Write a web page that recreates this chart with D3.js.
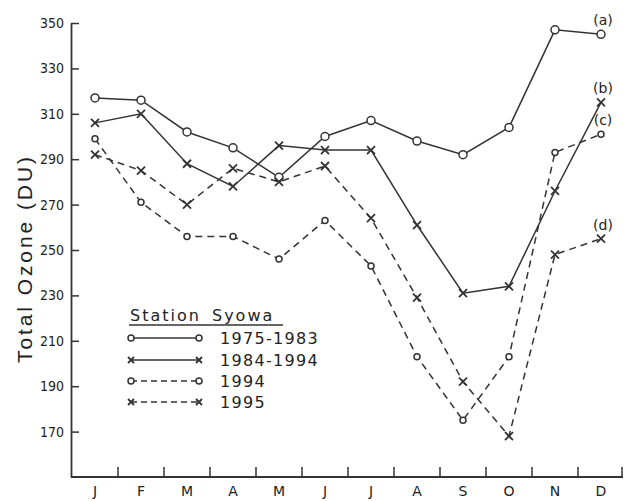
<!DOCTYPE html>
<html>
<head>
<meta charset="utf-8">
<script src="https://cdn.jsdelivr.net/npm/d3@7"></script>
<style>
  body { margin: 0; background: #fff; }
  svg { display: block; }
</style>
</head>
<body>
<script>
var width = 624,
    height = 501,
    ink = "#333";

// month labels along the bottom
var months = ["J", "F", "M", "A", "M", "J", "J", "A", "S", "O", "N", "D"];

// monthly total ozone (DU)
var ozone7583 = [317, 316, 302, 295, 282, 300, 307, 298, 292, 304, 347, 345];
var ozone8494 = [306, 310, 288, 278, 296, 294, 294, 261, 231, 234, 276, 315];
var ozone1994 = [299, 271, 256, 256, 246, 263, 243, 203, 175, 203, 293, 301];
var ozone1995 = [292, 285, 270, 286, 280, 287, 264, 229, 192, 168, 248, 255];

var yTicks = [170, 190, 210, 230, 250, 270, 290, 310, 330, 350];

var series = [
    {name: "1975-1983", tag: "(a)", values: ozone7583, dash: null,  mark: "o", r: 4},
    {name: "1984-1994", tag: "(b)", values: ozone8494, dash: null,  mark: "x", r: 4},
    {name: "1994",      tag: "(c)", values: ozone1994, dash: "7,5", mark: "o", r: 3},
    {name: "1995",      tag: "(d)", values: ozone1995, dash: "7,5", mark: "x", r: 4}
];

var x = d3.scaleBand()
    .domain(d3.range(12))
    .range([72, 624]);

var y = d3.scaleLinear()
    .domain([150, 350])
    .range([477, 23]);

var svg = d3.select("body").append("svg")
    .attr("width", width)
    .attr("height", height);

function cx(i) { return x(i) + x.bandwidth() / 2; }

// y axis, ticks pointing inward
var yAxis = svg.append("g")
    .attr("transform", "translate(71,0)")
    .call(d3.axisLeft(y).tickValues(yTicks).tickSizeInner(-8).tickSizeOuter(0).tickPadding(7));
yAxis.select(".domain").attr("stroke", ink).attr("stroke-width", 1.8);
yAxis.selectAll(".tick line").attr("stroke", ink).attr("stroke-width", 1.5);
yAxis.selectAll("text")
    .attr("fill", "#222")
    .style("font", "14px 'DejaVu Sans Condensed', 'DejaVu Sans', sans-serif");

// x axis: labels at month centres, ticks on month boundaries
var xAxis = svg.append("g")
    .attr("transform", "translate(0,477)")
    .call(d3.axisBottom(x).tickSize(0).tickPadding(9).tickFormat(function(i) { return months[i]; }));
xAxis.select(".domain").attr("stroke", ink).attr("stroke-width", 1.8).attr("d", "M71,0H623");
xAxis.selectAll("text")
    .attr("fill", "#222")
    .style("font", "14px 'DejaVu Sans', sans-serif");

svg.append("g").selectAll("line")
    .data(d3.range(12))
    .enter().append("line")
    .attr("x1", function(i) { return Math.min(x(i) + x.step(), 622); })
    .attr("x2", function(i) { return Math.min(x(i) + x.step(), 622); })
    .attr("y1", 477)
    .attr("y2", 467)
    .attr("stroke", ink)
    .attr("stroke-width", 1.5);

svg.append("text")
    .attr("transform", "translate(32,260) rotate(-90)")
    .attr("text-anchor", "middle")
    .attr("textLength", 206)
    .attr("fill", "#222")
    .style("font", "21px 'Liberation Sans', Arial, sans-serif")
    .text("Total Ozone (DU)");

var line = d3.line()
    .x(function(d, i) { return cx(i); })
    .y(function(d) { return y(d); });

function drawMark(g, kind, px, py, r) {
    if (kind === "o") {
        g.append("circle")
            .attr("cx", px).attr("cy", py).attr("r", r)
            .attr("fill", "#fff").attr("stroke", ink).attr("stroke-width", 1.5);
    } else {
        g.append("path")
            .attr("d", "M" + (px - r) + "," + (py - r) + "L" + (px + r) + "," + (py + r) +
                       "M" + (px - r) + "," + (py + r) + "L" + (px + r) + "," + (py - r))
            .attr("fill", "none").attr("stroke", ink).attr("stroke-width", 1.8);
    }
}

series.forEach(function(s) {
    var g = svg.append("g");
    g.append("path")
        .datum(s.values)
        .attr("d", line)
        .attr("fill", "none")
        .attr("stroke", ink)
        .attr("stroke-width", 1.5)
        .attr("stroke-dasharray", s.dash);
    s.values.forEach(function(v, i) {
        drawMark(g, s.mark, cx(i), y(v), s.r);
    });
    // curve tag over the December point
    g.append("text")
        .attr("x", cx(11) + 2)
        .attr("y", y(s.values[11]) - 9)
        .attr("text-anchor", "middle")
        .attr("fill", "#222")
        .style("font", "14px 'DejaVu Sans', sans-serif")
        .text(s.tag);
});

// legend
var legend = svg.append("g").attr("transform", "translate(129,0)");
legend.append("text")
    .attr("x", 1).attr("y", 321)
    .attr("fill", "#222")
    .attr("letter-spacing", 2)
    .attr("word-spacing", 4)
    .style("font", "16px 'DejaVu Sans', sans-serif")
    .text("Station Syowa");
legend.append("line")
    .attr("x1", 0).attr("x2", 154)
    .attr("y1", 325).attr("y2", 325)
    .attr("stroke", ink).attr("stroke-width", 1.5);

var rowY = [338, 360, 381, 402];
series.forEach(function(s, k) {
    var ly = rowY[k];
    legend.append("line")
        .attr("x1", 2).attr("x2", 70)
        .attr("y1", ly).attr("y2", ly)
        .attr("stroke", ink)
        .attr("stroke-width", 1.5)
        .attr("stroke-dasharray", s.dash ? "6,4" : null);
    drawMark(legend, s.mark, 2, ly, 3);
    drawMark(legend, s.mark, 70, ly, 3);
    legend.append("text")
        .attr("x", 91).attr("y", ly + 6)
        .attr("fill", "#222")
        .attr("letter-spacing", 1.3)
        .style("font", "16px 'DejaVu Sans', sans-serif")
        .text(s.name);
});
</script>
</body>
</html>
